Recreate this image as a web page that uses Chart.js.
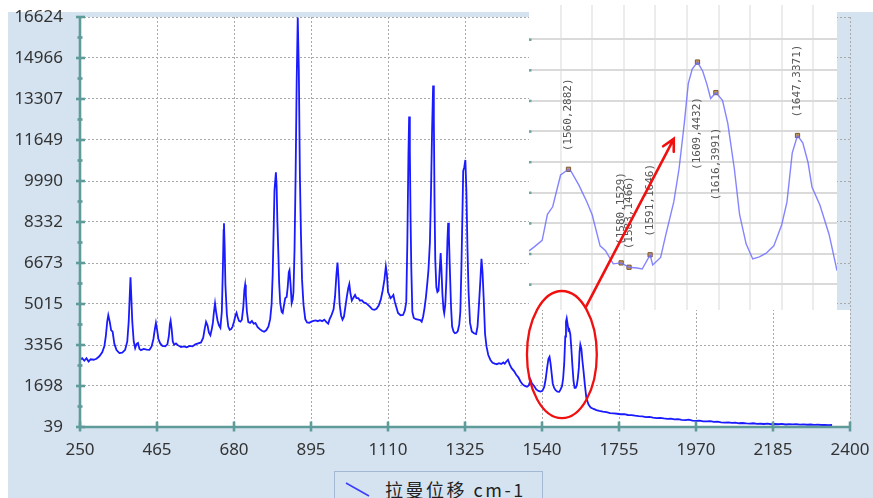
<!DOCTYPE html>
<html>
<head>
<meta charset="utf-8">
<script src="https://cdn.jsdelivr.net/npm/chart.js@4.4.1/dist/chart.umd.min.js"></script>
<style>
  body { margin: 0; background: #fff; }
  #wrap { position: relative; width: 873px; height: 498px; overflow: hidden; }
  #wrap canvas { position: absolute; left: 0; top: 0; }
  #legend {
    position: absolute; left: 334px; top: 471px; width: 207px; height: 40px;
    border: 1px solid #a3b8d4; background: #d5e3f1;
  }
  #legend svg { position: absolute; left: 10px; top: 10px; }
  #legend span {
    position: absolute; left: 50px; top: 4px; line-height: 26px; white-space: nowrap;
    font: 18px 'Noto Sans CJK SC', sans-serif; letter-spacing: 2.5px; color: #222;
  }
</style>
</head>
<body>
<div id="wrap">
  <canvas id="main" width="873" height="498"></canvas>
  <canvas id="inset" width="873" height="498"></canvas>
  <div id="legend">
    <svg width="26" height="16"><line x1="1" y1="1" x2="24" y2="14" stroke="#3b3bff" stroke-width="1.5"/></svg>
    <span>拉曼位移 cm-1</span>
  </div>
</div>
<script>
// main spectrum (Raman shift, intensity)
const ramanShift = [
  250, 256, 262, 268, 274, 280, 288, 296, 304, 312,
  318, 322, 326, 329, 333, 337, 341, 346, 352, 360,
  368, 376, 382, 386, 389, 391, 393, 396, 400, 404,
  408, 412, 416, 420, 428, 436, 444, 450, 455, 459,
  462, 465, 469, 474, 480, 488, 494, 498, 501, 503,
  506, 509, 513, 518, 524, 532, 540, 548, 556, 564,
  572, 580, 588, 594, 598, 602, 606, 610, 614, 618,
  621, 624, 627, 630, 634, 638, 642, 646, 649, 651,
  652, 654, 656, 660, 664, 668, 672, 676, 680, 684,
  687, 690, 694, 698, 702, 706, 709, 711, 713, 716,
  720, 725, 730, 735, 740, 746, 752, 758, 764, 770,
  776, 781, 785, 788, 791, 793, 797, 799, 801, 804,
  806, 809, 813, 816, 820, 823, 827, 830, 833, 835,
  838, 841, 844, 846, 849, 852, 855, 858, 861, 864,
  867, 870, 874, 879, 884, 890, 896, 902, 908, 914,
  920, 926, 932, 938, 943, 947, 952, 958, 962, 966,
  969, 972, 975, 979, 983, 987, 991, 995, 999, 1002,
  1005, 1009, 1013, 1018, 1022, 1027, 1032, 1037, 1042, 1048,
  1054, 1060, 1066, 1072, 1078, 1084, 1090, 1095, 1100, 1104,
  1107, 1110, 1113, 1117, 1121, 1125, 1129, 1133, 1138, 1145,
  1152, 1157, 1161, 1164, 1167, 1169, 1171, 1173, 1175, 1178,
  1182, 1188, 1194, 1200, 1204, 1208, 1212, 1216, 1220, 1223,
  1227, 1230, 1233, 1236, 1238, 1240, 1242, 1245, 1248, 1251,
  1254, 1257, 1259, 1262, 1265, 1267, 1270, 1273, 1276, 1278,
  1280, 1283, 1286, 1289, 1293, 1297, 1301, 1305, 1309, 1312,
  1315, 1318, 1320, 1323, 1326, 1329, 1332, 1335, 1339, 1344,
  1350, 1356, 1360, 1364, 1368, 1371, 1374, 1377, 1381, 1385,
  1390, 1396, 1402, 1408, 1414, 1420, 1426, 1432, 1436, 1440,
  1445, 1450, 1455, 1462, 1468, 1474, 1480, 1486, 1492, 1498,
  1503, 1508, 1512, 1518, 1524, 1530, 1536, 1541, 1546, 1550,
  1554, 1558, 1561, 1564, 1567, 1570, 1574, 1578, 1583, 1588,
  1592, 1596, 1599, 1602, 1605, 1607, 1609, 1612, 1614, 1616,
  1619, 1622, 1625, 1628, 1631, 1634, 1637, 1640, 1643, 1645,
  1647, 1650, 1653, 1656, 1660, 1664, 1670, 1676, 1684, 1692,
  1700, 1710, 1720, 1730, 1740, 1750, 1760, 1770, 1780, 1790,
  1800, 1810, 1820, 1830, 1840, 1850, 1860, 1870, 1880, 1890,
  1900, 1910, 1920, 1930, 1940, 1950, 1960, 1970, 1980, 1990,
  2000, 2010, 2020, 2030, 2040, 2050, 2060, 2070, 2080, 2090,
  2100, 2110, 2120, 2130, 2140, 2150, 2160, 2170, 2180, 2190,
  2200, 2210, 2220, 2230, 2240, 2250, 2260, 2270, 2280, 2290,
  2300, 2310, 2320, 2330, 2340, 2350
];
const intensity = [
  2760, 2820, 2720, 2820, 2690, 2780, 2760, 2800, 2900, 3060,
  3300, 3700, 4300, 4560, 4300, 3950, 3900, 3400, 3150, 3030,
  3050, 3160, 3500, 4300, 5400, 6100, 5400, 4300, 3500, 3230,
  3400, 3440, 3200, 3150, 3200, 3170, 3160, 3300, 3600, 4000,
  4250, 4000, 3600, 3420, 3320, 3300, 3380, 3700, 4200, 4340,
  4000, 3500, 3360, 3420, 3340, 3270, 3300, 3260, 3320, 3300,
  3380, 3420, 3460, 3650, 4000, 4290, 4150, 3850, 3750, 4000,
  4250, 4700, 5040, 4700, 4350, 4150, 4050, 4700, 6500, 8000,
  8280, 7300, 5800, 4600, 4100, 3970, 4000, 4100, 4300, 4550,
  4660, 4500, 4330, 4300, 4380, 4900, 5600, 5790, 5400, 4700,
  4280, 4250, 4330, 4220, 4240, 4080, 4000, 3930, 3890, 3950,
  4100, 4400, 5000, 6200, 8200, 9600, 10340, 9800, 8400, 7000,
  5900, 5050, 4700, 4650, 5000, 5250, 5300, 5700, 6300, 6380,
  5800, 5050, 5200, 5500, 7200, 10200, 14000, 16600, 14500, 10200,
  7800, 6000, 5000, 4400, 4270, 4250, 4300, 4330, 4350, 4320,
  4360, 4320, 4380, 4280, 4220, 4400, 4550, 4800, 5300, 6200,
  6690, 6000, 5000, 4550, 4380, 4500, 4900, 5300, 5650, 5820,
  5450, 5150, 5260, 5380, 5250, 5250, 5150, 5170, 5080, 5050,
  4980, 4900, 4800, 4780, 4820, 4950, 5200, 5550, 6000, 6530,
  6200, 5500, 5400, 5250, 5300, 5380, 5100, 4900, 4650, 4560,
  4570, 4750, 5100, 7500, 11000, 12600, 11200, 8500, 6500, 4700,
  4450, 4400, 4380, 4360, 4300, 4500, 4850, 5300, 5900, 6400,
  7500, 9500, 12000, 13850, 12500, 9000, 6800, 5700, 5500, 5550,
  6300, 7080, 6500, 5400, 4800, 4640, 5000, 6000, 7600, 8300,
  7800, 6300, 4900, 4100, 3900, 3830, 3850, 3920, 4200, 4700,
  6500, 8800, 10400, 10550, 10840, 9500, 7200, 5500, 4250, 3900,
  3830, 3800, 4100, 5000, 6000, 6840, 6300, 5300, 3800, 3300,
  2950, 2750, 2640, 2600, 2580, 2620, 2590, 2650, 2600, 2680,
  2760, 2560, 2420, 2300, 2150, 2050, 1880, 1760, 1700, 1670,
  1720, 1950, 1800, 1700, 1560, 1500, 1470, 1500, 1650, 1950,
  2400, 2800, 2880, 2600, 2200, 1800, 1620, 1530, 1470, 1460,
  1560, 1700, 2000, 2600, 3700, 4300, 4430, 4150, 3950, 3990,
  3800, 3200, 2500, 1900, 1620, 1620, 1720, 2000, 2450, 3100,
  3370, 3200, 2700, 2300, 1700, 1200, 950, 830, 770, 720,
  690, 660, 640, 600, 590, 575, 555, 560, 525, 520,
  495, 480, 470, 435, 445, 420, 400, 410, 385, 370,
  375, 350, 355, 330, 320, 335, 300, 290, 300, 270,
  265, 275, 245, 255, 230, 220, 225, 205, 215, 190,
  200, 185, 175, 190, 165, 170, 160, 175, 150, 160,
  150, 165, 140, 150, 145, 150, 135, 145, 130, 140,
  125, 135, 120, 128, 115, 120
];

// enlarged inset trace
const insetShift = [
  1545, 1547, 1550, 1552, 1554, 1557, 1560, 1561, 1564, 1567,
  1569, 1572, 1574, 1577, 1580, 1583, 1586, 1588, 1591, 1592,
  1595, 1597, 1600, 1602, 1604, 1605.5, 1607, 1609, 1611, 1612.5,
  1614, 1616, 1618.5, 1620.5, 1623, 1625, 1627.5, 1630, 1632.5, 1635,
  1638, 1641, 1643, 1645, 1647, 1649, 1651, 1652.5, 1655.5, 1659,
  1662
];
const insetIntensity = [
  1702, 1760, 1855, 2230, 2340, 2800, 2882, 2850, 2650, 2410,
  2225, 1775, 1710, 1515, 1529, 1466, 1455, 1440, 1646, 1500,
  1607, 1940, 2410, 2890, 3550, 4120, 4330, 4432, 4300, 4120,
  3905, 3991, 3880, 3550, 2890, 2225, 1800, 1585, 1615, 1665,
  1775, 2080, 2410, 3120, 3371, 3265, 2980, 2625, 2365, 1940,
  1417
];

// labelled peaks in the inset
const peakShift = [1560, 1580, 1583, 1591, 1609, 1616, 1647];
const peakIntensity = [2882, 1529, 1466, 1646, 4432, 3991, 3371];

// tick values
const xTicks = [250, 465, 680, 895, 1110, 1325, 1540, 1755, 1970, 2185, 2400];
const yTicks = [39, 1698, 3356, 5015, 6673, 8332, 9990, 11649, 13307, 14966, 16624];
const insetXTicks = [1557, 1569, 1581, 1593, 1605, 1617, 1629, 1641, 1653];
const insetYTicks = [1218, 1661, 2103, 2546, 2988, 3431, 3874, 4316, 4759];

// highlighted region and arrow (data coordinates)
const highlight = { xMin: 1498, xMax: 1693, yMin: 400, yMax: 5540 };
const arrowFrom = { x: 1663, y: 4905 };   // main chart
const arrowTo = { x: 1600, y: 3322 };     // inset

const W = 873, H = 498;
const INSET = { left: 529, top: 0, right: 837, bottom: 310 };
const PAGE_BG = '#d5e3f1';
const AXIS = '#5f9b98';
const tickFont = { family: "'Noto Sans', sans-serif", size: 17 };

const framePlugin = {
  id: 'frame',
  beforeDraw(chart) {
    const { ctx, chartArea: a } = chart;
    ctx.save();
    ctx.fillStyle = PAGE_BG;
    ctx.fillRect(8, 12, W - 8, H - 12);
    ctx.fillStyle = '#fff';
    ctx.fillRect(a.left, a.top, a.right - a.left, a.bottom - a.top);
    ctx.fillStyle = PAGE_BG;
    ctx.fillRect(INSET.right, a.top, a.right - INSET.right, INSET.bottom - a.top);
    ctx.restore();
  }
};

const axesPlugin = {
  id: 'axes',
  afterDatasetsDraw(chart) {
    const { ctx, chartArea: a, scales: { x, y } } = chart;
    const seg = (x1, y1, x2, y2) => { ctx.beginPath(); ctx.moveTo(x1, y1); ctx.lineTo(x2, y2); ctx.stroke(); };
    ctx.save();
    ctx.strokeStyle = AXIS;
    ctx.lineWidth = 2.6;
    ctx.beginPath();
    ctx.moveTo(a.left, a.top);
    ctx.lineTo(a.left, a.bottom);
    ctx.lineTo(a.right, a.bottom);
    ctx.stroke();
    y.ticks.forEach((t, i) => {
      const py = y.getPixelForValue(t.value);
      seg(a.left - 4, py, a.left + 5, py);
      if (i > 0) {
        const mid = (py + y.getPixelForValue(y.ticks[i - 1].value)) / 2;
        seg(a.left - 2.5, mid, a.left + 2.5, mid);
      }
    });
    x.ticks.forEach((t) => {
      const px = x.getPixelForValue(t.value);
      seg(px, a.bottom - 5.5, px, a.bottom + 4.5);
    });
    ctx.restore();
  }
};

const mainChart = new Chart(document.getElementById('main'), {
  type: 'line',
  data: {
    datasets: [{
      label: '拉曼位移 cm-1',
      data: ramanShift.map((x, i) => ({ x, y: intensity[i] })),
      borderColor: '#1a1aff',
      borderWidth: 1.8,
      pointRadius: 0,
      tension: 0
    }]
  },
  options: {
    responsive: false,
    animation: false,
    devicePixelRatio: 1,
    layout: { padding: { left: 8, top: 17, right: 23, bottom: 0 } },
    plugins: { legend: { display: false }, tooltip: { enabled: false } },
    scales: {
      x: {
        type: 'linear',
        min: 250,
        max: 2400,
        afterBuildTicks: (s) => { s.ticks = xTicks.map((v) => ({ value: v })); },
        // fixed size; drop the label overflow so the layout padding decides the plot box
        afterFit: (s) => { s.height = 71; s.paddingLeft = 0; s.paddingRight = 0; },
        ticks: { callback: (v) => String(v), padding: 13, font: tickFont, color: '#333', maxRotation: 0, autoSkip: false },
        grid: { color: '#aaa', lineWidth: 1, drawTicks: false },
        border: { display: false, dash: [2, 2] }
      },
      y: {
        min: 39,
        max: 16624,
        afterBuildTicks: (s) => { s.ticks = yTicks.map((v) => ({ value: v })); },
        afterFit: (s) => { s.width = 72; s.paddingTop = 0; s.paddingBottom = 0; },
        ticks: { callback: (v) => String(v), padding: 17, font: tickFont, color: '#333', autoSkip: false },
        grid: { color: '#aaa', lineWidth: 1, drawTicks: false },
        border: { display: false, dash: [2, 2] }
      }
    }
  },
  plugins: [framePlugin, axesPlugin]
});

const insetPlugin = {
  id: 'insetDecor',
  beforeDraw(chart) {
    const { ctx } = chart;
    ctx.save();
    ctx.fillStyle = '#fff';
    ctx.fillRect(INSET.left, INSET.top, INSET.right - INSET.left, INSET.bottom - INSET.top);
    ctx.restore();
  },
  afterDatasetsDraw(chart) {
    const { ctx } = chart;
    const meta = chart.getDatasetMeta(1);
    ctx.save();
    ctx.font = "11px 'DejaVu Sans Mono', monospace";
    ctx.fillStyle = '#555';
    ctx.textBaseline = 'middle';
    meta.data.forEach((pt, i) => {
      const below = peakIntensity[i] > 3800;
      ctx.save();
      ctx.translate(pt.x, pt.y);
      ctx.rotate(-Math.PI / 2);
      ctx.textAlign = below ? 'right' : 'left';
      ctx.fillText(`(${peakShift[i]},${peakIntensity[i]})`, below ? -35 : 18, 0);
      ctx.restore();
    });
    ctx.restore();
  },
  afterDraw(chart) {
    const { ctx, scales } = chart;
    ctx.save();
    // small axis dots at the left of the inset grid
    ctx.fillStyle = '#6aa59e';
    scales.y.ticks.forEach((t) => {
      ctx.fillRect(INSET.left, scales.y.getPixelForValue(t.value) - 1, 2.5, 2.5);
    });
    // red ellipse round the zoomed peaks
    const mx = mainChart.scales.x, my = mainChart.scales.y;
    const x1 = mx.getPixelForValue(highlight.xMin), x2 = mx.getPixelForValue(highlight.xMax);
    const y1 = my.getPixelForValue(highlight.yMax), y2 = my.getPixelForValue(highlight.yMin);
    ctx.strokeStyle = '#f01010';
    ctx.lineWidth = 2.3;
    ctx.beginPath();
    ctx.ellipse((x1 + x2) / 2, (y1 + y2) / 2, (x2 - x1) / 2, (y2 - y1) / 2, 0, 0, Math.PI * 2);
    ctx.stroke();
    // arrow into the inset
    const sx = mx.getPixelForValue(arrowFrom.x), sy = my.getPixelForValue(arrowFrom.y);
    const ex = scales.x.getPixelForValue(arrowTo.x), ey = scales.y.getPixelForValue(arrowTo.y);
    const ang = Math.atan2(ey - sy, ex - sx);
    ctx.lineWidth = 2.6;
    ctx.lineCap = 'round';
    ctx.beginPath();
    ctx.moveTo(sx, sy);
    ctx.lineTo(ex, ey);
    ctx.moveTo(ex - 13 * Math.cos(ang - 0.48), ey - 13 * Math.sin(ang - 0.48));
    ctx.lineTo(ex, ey);
    ctx.lineTo(ex - 13 * Math.cos(ang + 0.48), ey - 13 * Math.sin(ang + 0.48));
    ctx.stroke();
    ctx.restore();
  }
};

new Chart(document.getElementById('inset'), {
  type: 'line',
  data: {
    datasets: [{
      data: insetShift.map((x, i) => ({ x, y: insetIntensity[i] })),
      borderColor: 'rgba(110, 110, 255, 0.85)',
      borderWidth: 1.4,
      pointRadius: 0,
      tension: 0
    }, {
      data: peakShift.map((x, i) => ({ x, y: peakIntensity[i] })),
      showLine: false,
      pointStyle: 'rect',
      pointRadius: 3,
      pointBackgroundColor: '#c99a5b',
      pointBorderColor: '#7a5530',
      pointBorderWidth: 1
    }]
  },
  options: {
    responsive: false,
    animation: false,
    devicePixelRatio: 1,
    layout: { padding: { left: INSET.left, top: INSET.top, right: W - INSET.right, bottom: H - INSET.bottom } },
    plugins: { legend: { display: false }, tooltip: { enabled: false } },
    scales: {
      x: {
        type: 'linear',
        min: 1545,
        max: 1662,
        afterBuildTicks: (s) => { s.ticks = insetXTicks.map((v) => ({ value: v })); },
        ticks: { display: false },
        grid: { color: '#ececec', lineWidth: 2, drawTicks: false },
        border: { display: false }
      },
      y: {
        min: 848,
        max: 5257,
        afterBuildTicks: (s) => { s.ticks = insetYTicks.map((v) => ({ value: v })); },
        ticks: { display: false },
        grid: { color: '#dadada', lineWidth: 2, drawTicks: false },
        border: { display: false }
      }
    }
  },
  plugins: [insetPlugin]
});
</script>
</body>
</html>
